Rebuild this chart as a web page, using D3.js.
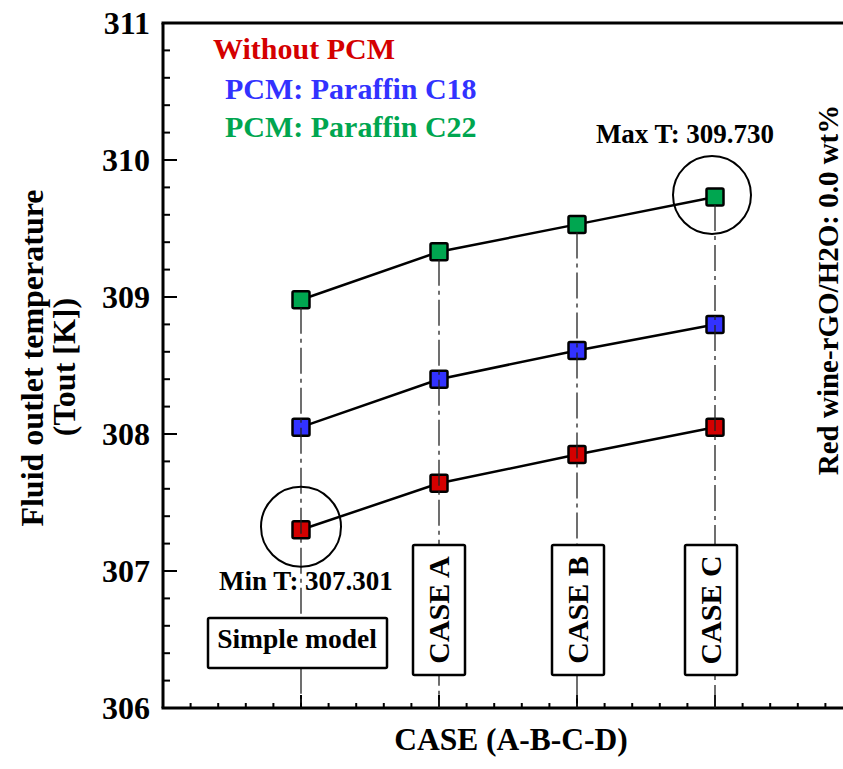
<!DOCTYPE html>
<html>
<head>
<meta charset="utf-8">
<script src="https://cdn.jsdelivr.net/npm/d3@7"></script>
<style>
  body { margin: 0; background: #fff; }
  svg text { font-family: "Liberation Serif", "Times New Roman", serif; font-weight: bold; }
</style>
</head>
<body>
<svg id="chart" width="843" height="769"></svg>
<script>
// data
const cases = ["Simple model", "CASE A", "CASE B", "CASE C"]
const casePos = [1, 2, 3, 4]
const withoutPCM = [307.301, 307.64, 307.85, 308.05]
const paraffinC18 = [308.05, 308.40, 308.61, 308.80]
const paraffinC22 = [308.98, 309.33, 309.53, 309.730]
const yTicks = [306, 307, 308, 309, 310, 311]
const seriesNames = ["Without PCM", "PCM: Paraffin C18", "PCM: Paraffin C22"]
const colormap = ["#d40000", "#3232ff", "#00a650"]

const svg = d3.select("#chart")

const x = d3.scaleLinear().domain([0, 5]).range([163, 853])
const y = d3.scaleLinear().domain([306, 311]).range([708, 23])

const allSeries = [withoutPCM, paraffinC18, paraffinC22]

// frame: left axis, bottom axis, top line
const axisG = svg.append("g")
axisG.append("line").attr("x1", x(0)).attr("x2", x(0)).attr("y1", y(311)).attr("y2", y(306))
    .attr("stroke", "#000").attr("stroke-width", 3)
axisG.append("line").attr("x1", x(0) - 1.5).attr("x2", 843).attr("y1", y(306)).attr("y2", y(306))
    .attr("stroke", "#000").attr("stroke-width", 3)
axisG.append("line").attr("x1", x(0) - 1.5).attr("x2", 843).attr("y1", y(311)).attr("y2", y(311))
    .attr("stroke", "#000").attr("stroke-width", 3)

// y ticks (inward)
const yMinor = d3.range(306, 311.001, 0.2)
axisG.selectAll(".ytick").data(yMinor).enter().append("line")
    .attr("x1", x(0))
    .attr("x2", d => x(0) + (Math.abs(d - Math.round(d)) < 1e-6 ? 14 : 7))
    .attr("y1", d => y(d)).attr("y2", d => y(d))
    .attr("stroke", "#000").attr("stroke-width", 2)
axisG.selectAll(".ylab").data(yTicks).enter().append("text")
    .attr("x", 150).attr("y", d => y(d)).attr("dy", "0.35em")
    .attr("text-anchor", "end").attr("font-size", 32)
    .text(d => d)

// x ticks (inward)
const xMinor = d3.range(0.2, 5.001, 0.2)
axisG.selectAll(".xtick").data(xMinor).enter().append("line")
    .attr("x1", d => x(d)).attr("x2", d => x(d))
    .attr("y1", y(306))
    .attr("y2", d => y(306) - (Math.abs(d - Math.round(d)) < 1e-6 ? 13 : 5))
    .attr("stroke", "#000").attr("stroke-width", 2)

// connecting lines
const line = d3.line().x((d, i) => x(casePos[i])).y(d => y(d))
allSeries.forEach(s => {
    svg.append("path")
        .attr("fill", "none").attr("stroke", "#000").attr("stroke-width", 2.5)
        .attr("d", line(s))
})

// markers
allSeries.forEach((s, k) => {
    svg.selectAll(".m" + k).data(s).enter().append("rect")
        .attr("x", (d, i) => x(casePos[i]) - 8.5)
        .attr("y", d => y(d) - 8.5)
        .attr("width", 17).attr("height", 17).attr("rx", 1.5)
        .attr("fill", colormap[k]).attr("stroke", "#000").attr("stroke-width", 2.5)
})

// dash-dot guides from the top marker down to the axis
svg.selectAll(".guide").data(casePos).enter().append("line")
    .attr("x1", d => x(d)).attr("x2", d => x(d))
    .attr("y1", (d, i) => y(paraffinC22[i]) + 8)
    .attr("y2", y(306))
    .attr("stroke", "#222").attr("stroke-width", 1.3)
    .attr("stroke-dasharray", "26,5,4,5")

// case labels in boxes
const boxG = svg.append("g")
boxG.append("rect").attr("x", x(casePos[0]) - 93).attr("y", 618).attr("width", 179).attr("height", 50)
    .attr("fill", "#fff").attr("stroke", "#000").attr("stroke-width", 2.5).attr("rx", 1.5)
boxG.append("text").attr("x", x(casePos[0]) - 4).attr("y", 648)
    .attr("text-anchor", "middle").attr("font-size", 27.5).text(cases[0])
const caseShift = [0, 0, 1, -4]
cases.slice(1).forEach((c, j) => {
    const i = j + 1
    const cx = x(casePos[i]) + caseShift[i]
    boxG.append("rect").attr("x", cx - 26).attr("y", 545).attr("width", 52).attr("height", 130)
        .attr("fill", "#fff").attr("stroke", "#000").attr("stroke-width", 2.5).attr("rx", 1.5)
    boxG.append("text")
        .attr("transform", `translate(${cx + 10},610) rotate(-90)`)
        .attr("text-anchor", "middle").attr("font-size", 30).text(c)
})

// min / max highlight circles
const minV = d3.min(withoutPCM), maxV = d3.max(paraffinC22)
const minI = withoutPCM.indexOf(minV), maxI = paraffinC22.indexOf(maxV)
svg.append("circle").attr("cx", x(casePos[minI])).attr("cy", y(minV) - 3).attr("r", 40)
    .attr("fill", "none").attr("stroke", "#000").attr("stroke-width", 2)
svg.append("circle").attr("cx", x(casePos[maxI]) - 3).attr("cy", y(maxV) - 2).attr("r", 39)
    .attr("fill", "none").attr("stroke", "#000").attr("stroke-width", 2)
svg.append("text").attr("x", 306).attr("y", 590).attr("text-anchor", "middle")
    .attr("font-size", 27).text("Min T: " + minV.toFixed(3))
svg.append("text").attr("x", 685).attr("y", 143).attr("text-anchor", "middle")
    .attr("font-size", 27).text("Max T: " + maxV.toFixed(3))

// legend
const legendY = [59, 99, 137], legendX = [213, 225, 225]
seriesNames.forEach((n, k) => {
    svg.append("text").attr("x", legendX[k]).attr("y", legendY[k])
        .attr("font-size", 30).attr("fill", colormap[k]).text(n)
})

// axis titles
svg.append("text").attr("transform", "translate(43,358) rotate(-90)")
    .attr("text-anchor", "middle").attr("font-size", 32).text("Fluid outlet temperature")
svg.append("text").attr("transform", "translate(75,367) rotate(-90)")
    .attr("text-anchor", "middle").attr("font-size", 32).text("(Tout [K])")
svg.append("text").attr("x", 511).attr("y", 750)
    .attr("text-anchor", "middle").attr("font-size", 31.5).text("CASE (A-B-C-D)")
svg.append("text").attr("transform", "translate(838,290) rotate(-90)")
    .attr("text-anchor", "middle").attr("font-size", 29).text("Red wine-rGO/H2O: 0.0 wt%")
</script>
</body>
</html>
